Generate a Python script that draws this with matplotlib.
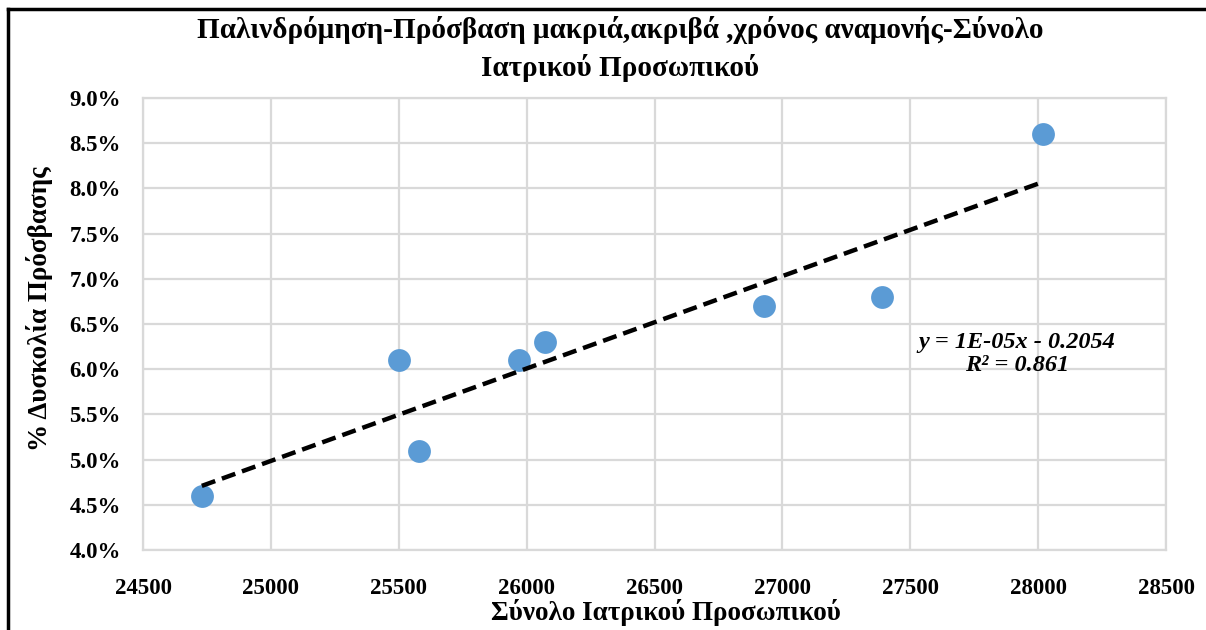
import numpy as np
import matplotlib.pyplot as plt
from matplotlib.lines import Line2D
from matplotlib.ticker import FuncFormatter, MultipleLocator

# data
staff_total = [24730, 25500, 25580, 25970, 26070, 26930, 27390, 28020]
access_difficulty = [0.046, 0.061, 0.051, 0.061, 0.063, 0.067, 0.068, 0.086]

title = "Παλινδρόμηση-Πρόσβαση μακριά,ακριβά ,χρόνος αναμονής-Σύνολο\nΙατρικού Προσωπικού"
x_label = "Σύνολο Ιατρικού Προσωπικού"
y_label = "% Δυσκολία Πρόσβασης"
equation = "y = 1E-05x - 0.2054\nR² = 0.861"

plt.rcParams['font.family'] = ['Liberation Serif', 'DejaVu Serif']
plt.rcParams['font.weight'] = 'bold'

fig = plt.figure(figsize=(12.06, 6.3), dpi=100)
ax = fig.add_axes([143 / 1206, 1 - 550 / 630, (1166 - 143) / 1206, (550 - 98) / 630])

grid_col = '#d9d9d9'
ax.scatter(staff_total, access_difficulty, s=270, color='#5b9bd5', zorder=3, linewidths=0)

# linear trendline over the data range
coef = np.polyfit(staff_total, access_difficulty, 1)
xs = np.array([min(staff_total), max(staff_total)])
ax.plot(xs, np.polyval(coef, xs), color='black', lw=3.2, ls=(0, (3.2, 1.6)), zorder=4)

ax.set_xlim(24500, 28500)
ax.set_ylim(0.04, 0.09)
ax.xaxis.set_major_locator(MultipleLocator(500))
ax.yaxis.set_major_locator(MultipleLocator(0.005))
ax.yaxis.set_major_formatter(FuncFormatter(lambda v, p: f"{v * 100:.1f}%"))
ax.grid(True, color=grid_col, lw=1.6)
ax.set_axisbelow(True)
for sp in ax.spines.values():
    sp.set_color(grid_col)
    sp.set_linewidth(1.6)
ax.tick_params(length=0, labelsize=16.5)
ax.tick_params(axis='x', pad=20)
ax.tick_params(axis='y', pad=16)

ax.set_xlabel(x_label, fontsize=19.5, fontweight='bold', va='center')
ax.xaxis.set_label_coords(0.511, -0.139)
ax.set_ylabel(y_label, fontsize=19.5, fontweight='bold', va='center')
ax.yaxis.set_label_coords(-0.1007, 0.534)

ax.text(27917, 0.0617, equation, fontsize=17.5, fontweight='bold', style='italic',
        ha='center', va='center', linespacing=1.1)

fig.text(620 / 1206, 1 - 49 / 630, title, fontsize=21, fontweight='bold',
         ha='center', va='center', linespacing=1.45)

# outer frame (left and top edges only are visible)
fig.add_artist(Line2D([8 / 1206, 8 / 1206], [0, 1 - 9 / 630], color='black', lw=2.5))
fig.add_artist(Line2D([8 / 1206, 1], [1 - 9 / 630, 1 - 9 / 630], color='black', lw=2.5))

fig.savefig('out.png', dpi=100)
